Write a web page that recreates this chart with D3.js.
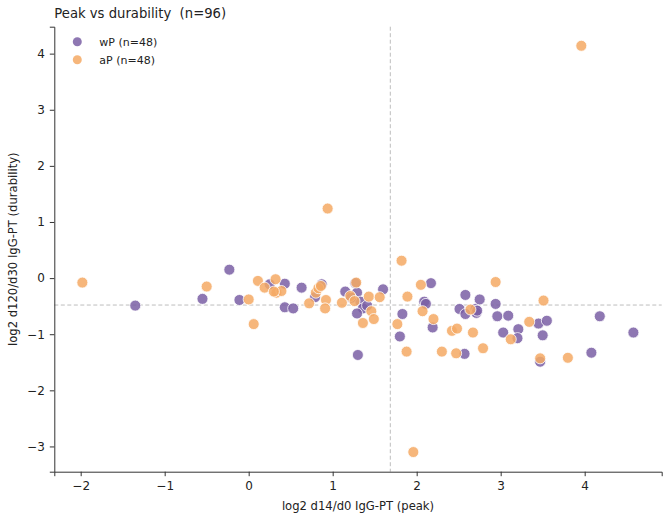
<!DOCTYPE html>
<html>
<head>
<meta charset="utf-8">
<script src="https://cdn.jsdelivr.net/npm/d3@7"></script>
<style>
  body { margin: 0; background: #fff; }
  text { font-family: "DejaVu Sans", sans-serif; fill: #222; }
</style>
</head>
<body>
<div id="chart"></div>
<script>
// peak (x) / durability (y) per subject
const wP = [
  [-1.35, -0.49], [-0.55, -0.37], [-0.23, 0.15], [-0.11, -0.39], [0.25, -0.11],
  [0.43, -0.10], [0.43, -0.52], [0.53, -0.54], [0.63, -0.17], [0.79, -0.34],
  [0.87, -0.11], [1.15, -0.24], [1.27, -0.09], [1.29, -0.26], [1.33, -0.42],
  [1.36, -0.54], [1.41, -0.49], [1.29, -0.63], [1.60, -0.20], [1.30, -1.37],
  [1.83, -0.64], [1.80, -1.04], [2.17, -0.09], [2.09, -0.42], [2.11, -0.46],
  [2.19, -0.88], [2.57, -1.35], [2.58, -0.30], [2.51, -0.55], [2.58, -0.64],
  [2.70, -0.55], [2.71, -0.62], [2.75, -0.38], [2.94, -0.46], [2.96, -0.68],
  [3.09, -0.67], [3.03, -0.97], [3.21, -0.91], [3.20, -1.07], [3.45, -0.81],
  [3.55, -0.76], [3.50, -1.02], [3.47, -1.49], [4.08, -1.33], [4.18, -0.68],
  [4.58, -0.97], [1.22, -0.35], [2.72, -0.58]
];
const aP = [
  [-1.98, -0.08], [-0.50, -0.15], [0.00, -0.38], [0.06, -0.82], [0.11, -0.05],
  [0.19, -0.17], [0.32, -0.02], [0.33, -0.26], [0.39, -0.23], [0.72, -0.45],
  [0.80, -0.26], [0.83, -0.18], [0.86, -0.14], [0.92, -0.39], [0.91, -0.54],
  [1.11, -0.44], [1.28, -0.08], [1.21, -0.32], [1.26, -0.41], [1.43, -0.33],
  [1.46, -0.59], [1.36, -0.80], [1.49, -0.73], [1.56, -0.34], [1.82, 0.31],
  [1.89, -0.33], [1.77, -0.82], [1.88, -1.31], [0.94, 1.24], [2.05, -0.12],
  [2.07, -0.59], [2.20, -0.73], [2.42, -0.94], [2.48, -0.90], [2.30, -1.31],
  [2.47, -1.34], [2.64, -0.56], [2.67, -0.97], [2.79, -1.25], [2.94, -0.07],
  [3.12, -1.09], [3.51, -0.40], [3.34, -0.78], [3.47, -1.43], [3.80, -1.42],
  [3.96, 4.14], [1.96, -3.10], [0.30, -0.24]
];
const groups = ["wP", "aP"];
const groupColors = ["#7a5fa5", "#f5a964"];
const xTicks = [-2, -1, 0, 1, 2, 3, 4];
const yTicks = [-3, -2, -1, 0, 1, 2, 3, 4];
const medianX = 1.686;
const medianY = -0.48;

const width = 668, height = 519;
const margin = { top: 26.7, right: 6.3, bottom: 47.3, left: 54.3 };
const iw = width - margin.left - margin.right;
const ih = height - margin.top - margin.bottom;

const svg = d3.select("#chart").append("svg")
  .attr("width", width).attr("height", height);
const g = svg.append("g")
  .attr("transform", `translate(${margin.left},${margin.top})`);

const x = d3.scaleLinear().domain([-2.314, 4.917]).range([0, iw]);
const y = d3.scaleLinear().domain([-3.45, 4.48]).range([ih, 0]);

// median guides
g.append("line")
  .attr("x1", x(medianX)).attr("x2", x(medianX))
  .attr("y1", 0).attr("y2", ih)
  .attr("stroke", "#bdbdbd").attr("stroke-width", 1).attr("stroke-dasharray", "4,2.5");
g.append("line")
  .attr("x1", 0).attr("x2", iw)
  .attr("y1", y(medianY)).attr("y2", y(medianY))
  .attr("stroke", "#bdbdbd").attr("stroke-width", 1).attr("stroke-dasharray", "4,2.5");

[wP, aP].forEach((pts, i) => {
  g.append("g").selectAll("circle")
    .data(pts)
    .join("circle")
    .attr("cx", d => x(d[0]))
    .attr("cy", d => y(d[1]))
    .attr("r", 5.5)
    .attr("fill", groupColors[i])
    .attr("fill-opacity", 0.85)
    .attr("stroke", "#fff")
    .attr("stroke-width", 0.8);
});

// axes
const xAxis = g.append("g")
  .attr("transform", `translate(0,${ih})`)
  .call(d3.axisBottom(x).tickValues(xTicks).tickSize(4.5).tickPadding(5)
    .tickFormat(d => d < 0 ? "\u2212" + Math.abs(d) : d));
const yAxis = g.append("g")
  .call(d3.axisLeft(y).tickValues(yTicks).tickSize(4.5).tickPadding(5)
    .tickFormat(d => d < 0 ? "\u2212" + Math.abs(d) : d));
[xAxis, yAxis].forEach(a => {
  a.select(".domain").attr("stroke", "#333").attr("stroke-width", 1);
  a.selectAll(".tick line").attr("stroke", "#333").attr("stroke-width", 1);
  a.selectAll(".tick text").attr("font-size", 12).attr("fill", "#111")
    .style("font-family", "'DejaVu Sans', sans-serif");
});

svg.append("text")
  .attr("x", margin.left + iw / 2).attr("y", 510)
  .attr("text-anchor", "middle").attr("font-size", 11.6)
  .text("log2 d14/d0 IgG-PT (peak)");
svg.append("text")
  .attr("transform", `translate(17,${margin.top + ih / 2}) rotate(-90)`)
  .attr("text-anchor", "middle").attr("font-size", 11.6)
  .text("log2 d120/d30 IgG-PT (durability)");
svg.append("text")
  .attr("x", margin.left).attr("y", 18)
  .attr("font-size", 13.2)
  .style("white-space", "pre")
  .text("Peak vs durability  (n=96)");

// legend
const legend = g.append("g").attr("transform", "translate(23,15)");
groups.forEach((name, i) => {
  const row = legend.append("g").attr("transform", `translate(0,${i * 18})`);
  row.append("circle").attr("r", 4.5)
    .attr("fill", groupColors[i]).attr("fill-opacity", 0.85);
  row.append("text").attr("x", 22).attr("y", 4)
    .attr("font-size", 11)
    .text(`${name} (n=${[wP, aP][i].length})`);
});
</script>
</body>
</html>
